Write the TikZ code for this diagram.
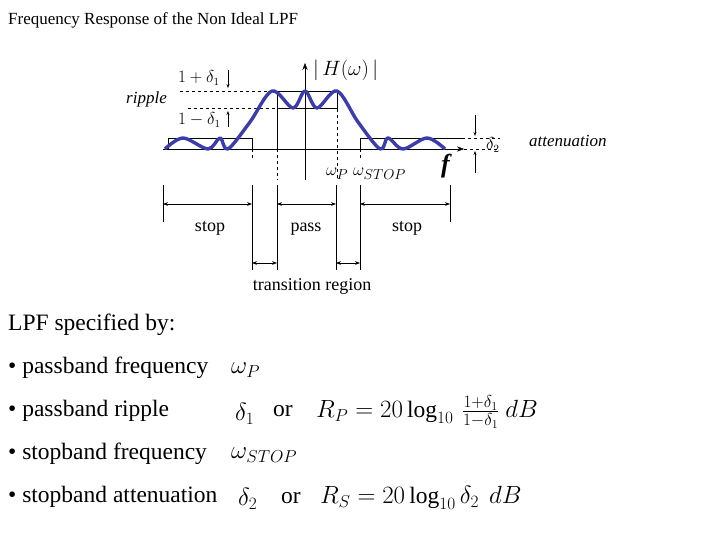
\documentclass[tikz,border=0pt]{standalone}
\usepackage{fontspec}
\setmainfont{Liberation Serif}
\usetikzlibrary{arrows.meta}
\begin{document}
\begin{tikzpicture}[x=1pt,y=-1pt,
  lbl/.style={inner sep=0pt,anchor=west},
  dsh/.style={dashed,thin},
  dim/.style={thick,{Stealth[length=5pt]}-{Stealth[length=5pt]}},
  tick/.style={thin},
  box/.style={thin},
  sm/.style={font=\fontsize{18}{20}\selectfont,anchor=base,inner sep=0pt}]
\useasboundingbox (0,0) rectangle (720,540);
\node[lbl,font=\fontsize{17}{20}\selectfont] (title) at (8,20) {Frequency Response of the Non Ideal LPF};
% axes
\coordinate (xl) at (163,149); \coordinate (xr) at (464,149);
\coordinate (yb) at (305,180); \coordinate (yt) at (305,63);
\draw[-{Stealth[length=7pt]}] (xl) -- (xr);
\draw[-{Stealth[length=7pt]}] (yb) -- (yt);
% boxes
\draw[box] (277,149) -- (277,91) -- (337,91) -- (337,108) -- (277,108);
\draw[box] (168,149) -- (168,138) -- (252,138) -- (252,149);
\draw[box] (360,149) -- (360,138) -- (462,138);
% dashed
\draw[dsh] (180,91) -- (277,91);
\draw[dsh] (188,108) -- (277,108);
\draw[dsh] (277,149) -- (277,180); \draw[dsh] (337,91) -- (337,180);
\draw[dsh] (252,149) -- (252,160); \draw[dsh] (360,149) -- (360,160);
\draw[dsh] (462,138) -- (500,138); \draw[dsh] (464,149) -- (500,149);
% curve
\draw[line width=3.4pt,color={rgb,255:red,60;green,60;blue,170},line join=round] plot[smooth,tension=0.55] coordinates {
(165,149)(183,138)(208,149)(220,138)(228,149)(250,122)(272,91)(293,108)(305,91)(317,108)(337,91)(358,122)(380,149)(388,138)(403,149)(427,138)(445,149)};
% small arrows
\draw[thick,-{Stealth[length=4pt]}] (228,70) -- (228,88);
\draw[thick,-{Stealth[length=4pt]}] (228,127) -- (228,111);
\draw[thick,-{Stealth[length=4pt]}] (475,115) -- (475,136);
\draw[thick,-{Stealth[length=4pt]}] (475,173) -- (475,151);
% labels
\node[lbl,font=\fontsize{16}{17}\selectfont] (p1) at (178,78) {$1+\delta_1$};
\node[lbl,font=\fontsize{16}{17}\selectfont] (m1) at (178,120) {$1-\delta_1$};
\node[lbl,font=\itshape\fontsize{17}{18}\selectfont] (rip) at (126,99) {ripple};
\node[lbl,font=\fontsize{16}{17}\selectfont] (d2) at (486,145) {$\delta_2$};
\node[lbl,font=\itshape\fontsize{17}{18}\selectfont] (att) at (529,141) {attenuation};
\node[lbl,font=\fontsize{22}{24}\selectfont] (H) at (313,70) {$|\,H(\omega)\,|$};
\node[lbl,font=\fontsize{19}{20}\selectfont] (wp) at (326,174) {$\omega_P\;\omega_{STOP}$};
\node[lbl,font=\bfseries\itshape\fontsize{26}{28}\selectfont] (f) at (441,166) {f};
% dimension lines
\foreach \x/\a/\b in {163/185/222,252/185/270,277/185/270,336/185/270,360/185/270,450/185/222}
  \draw[tick] (\x,\a) -- (\x,\b);
\coordinate (s1) at (163,204); \coordinate (s2) at (252,204);
\coordinate (q1) at (277,204); \coordinate (q2) at (336,204);
\coordinate (r1) at (360,204); \coordinate (r2) at (450,204);
\coordinate (t1) at (252,263); \coordinate (t2) at (277,263);
\coordinate (u1) at (336,263); \coordinate (u2) at (360,263);
\draw[dim] (s1) -- (s2); \draw[dim] (q1) -- (q2); \draw[dim] (r1) -- (r2);
\draw[dim] (t1) -- (t2); \draw[dim] (u1) -- (u2);
\node[sm] (st1) at (210,231) {stop};
\node[sm] (ps) at (306,231) {pass};
\node[sm] (st2) at (407,231) {stop};
\node[sm] (tr) at (312,290) {transition region};
% spec list
\begin{scope}[font=\fontsize{23.5}{26}\selectfont]
\node[lbl] (spec) at (8,325) {LPF specified by:};
\node[lbl] (b1) at (8,368) {• passband frequency};
\node[lbl] (b2) at (8,411) {• passband ripple};
\node[lbl] (b3) at (8,454) {• stopband frequency};
\node[lbl] (b4) at (8,497) {• stopband attenuation};
\node[lbl] (w1) at (231,370) {$\omega_P$};
\node[lbl] (dl1) at (235,414) {$\delta_1$};
\node[lbl] (or1) at (273,411) {or};
\node[lbl] (rp) at (316,412) {$R_P=20\log_{10}\,\frac{1+\delta_1}{1-\delta_1}\ dB$};
\node[lbl] (w2) at (231,455) {$\omega_{STOP}$};
\node[lbl] (dl2) at (238,499) {$\delta_2$};
\node[lbl] (or2) at (281,498) {or};
\node[lbl] (rs) at (320,498) {$R_S=20\log_{10}\delta_2\ \,dB$};
\end{scope}
\end{tikzpicture}
\end{document}
